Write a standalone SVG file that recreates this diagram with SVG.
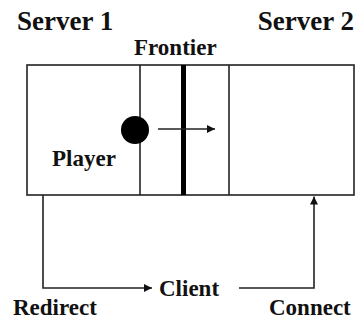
<svg xmlns="http://www.w3.org/2000/svg" width="359" height="320" viewBox="0 0 359 320">
  <style>
    text { font-family: 'Liberation Serif', 'DejaVu Serif', serif; font-weight: 700; fill: #111; }
    .big { font-size: 27px; }
    .mid { font-size: 23px; }
    .edge { fill: none; stroke: #222; stroke-width: 1.6; }
  </style>
  <defs>
    <marker id="head" viewBox="0 0 10 10" refX="10" refY="5" markerWidth="5" markerHeight="5" orient="auto" markerUnits="strokeWidth">
      <path d="M0,0 L10,5 L0,10 Z" fill="#111"/>
    </marker>
  </defs>
  <rect width="359" height="320" fill="#ffffff"/>

  <g id="server1-label">
    <text class="big" x="17" y="30">Server 1</text>
  </g>
  <g id="server2-label">
    <text class="big" x="354" y="30" text-anchor="end">Server 2</text>
  </g>

  <g id="world">
    <rect x="27" y="65" width="327" height="130" fill="none" stroke="#222" stroke-width="1.6"/>
    <line x1="140" y1="65" x2="140" y2="195" stroke="#222" stroke-width="1.6"/>
    <line x1="229" y1="65" x2="229" y2="195" stroke="#222" stroke-width="1.6"/>
  </g>

  <g id="frontier">
    <line x1="183.5" y1="65" x2="183.5" y2="195" stroke="#000" stroke-width="5"/>
    <text class="mid" x="134" y="55">Frontier</text>
  </g>

  <g id="player">
    <circle cx="135" cy="130" r="14" fill="#000"/>
    <text class="mid" x="52" y="166">Player</text>
  </g>

  <g id="client">
    <text class="mid" x="159" y="296">Client</text>
  </g>

  <g id="redirect-label">
    <text class="mid" x="13" y="315">Redirect</text>
  </g>
  <g id="connect-label">
    <text class="mid" x="269" y="315">Connect</text>
  </g>

  <g id="connectors">
    <line class="edge" x1="158" y1="129" x2="215" y2="129" marker-end="url(#head)"/>
    <polyline class="edge" points="43,195 43,288 152,288" marker-end="url(#head)"/>
    <polyline class="edge" points="239,288 314,288 314,196.5" marker-end="url(#head)"/>
  </g>
</svg>
